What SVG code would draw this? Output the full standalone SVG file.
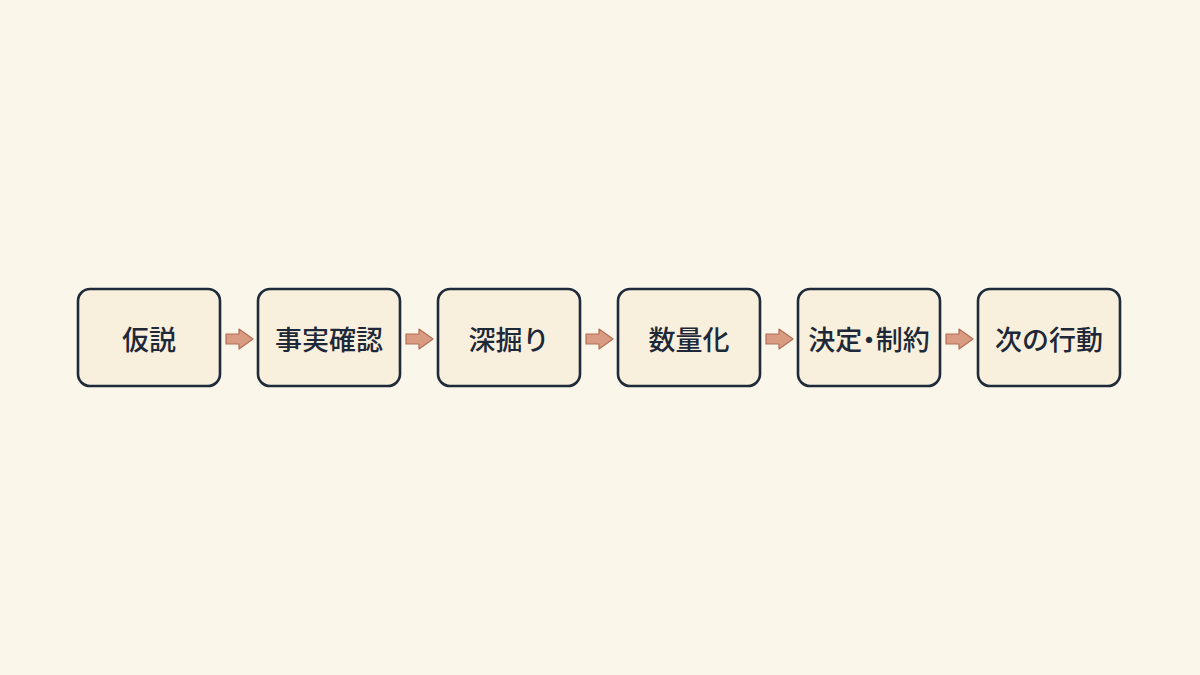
<svg xmlns="http://www.w3.org/2000/svg" width="1200" height="675" viewBox="0 0 1200 675">
<defs>
<style>
.box{fill:#f8f0dc;stroke:#1f2a3a;stroke-width:2.6}
.lbl{font-family:"Noto Sans CJK JP","Noto Sans",sans-serif;font-size:27px;font-weight:500;fill:#1e2838;text-anchor:middle;dominant-baseline:central}
.half{font-feature-settings:"halt" 1}
.arr{fill:#d99b82;stroke:#b46e56;stroke-width:1.2;stroke-linejoin:round}
</style>
<path id="ar" d="M0,-5 H13 V-10 L27,0 L13,10 V5 H0 Z"/>
</defs>
<rect width="1200" height="675" fill="#faf6ea"/>
<g id="connectors">
<use href="#ar" class="arr" x="226" y="339"/>
<use href="#ar" class="arr" x="406" y="339"/>
<use href="#ar" class="arr" x="586" y="339"/>
<use href="#ar" class="arr" x="766" y="339"/>
<use href="#ar" class="arr" x="946" y="339"/>
</g>
<g id="n1"><rect class="box" x="78" y="289" width="142" height="97" rx="12"/><text class="lbl" x="149" y="338">仮説</text></g>
<g id="n2"><rect class="box" x="258" y="289" width="142" height="97" rx="12"/><text class="lbl" x="329" y="338">事実確認</text></g>
<g id="n3"><rect class="box" x="438" y="289" width="142" height="97" rx="12"/><text class="lbl" x="509" y="338">深掘り</text></g>
<g id="n4"><rect class="box" x="618" y="289" width="142" height="97" rx="12"/><text class="lbl" x="689" y="338">数量化</text></g>
<g id="n5"><rect class="box" x="798" y="289" width="142" height="97" rx="12"/><text class="lbl half" x="869" y="338">決定・制約</text></g>
<g id="n6"><rect class="box" x="978" y="289" width="142" height="97" rx="12"/><text class="lbl" x="1049" y="338">次の行動</text></g>
</svg>
